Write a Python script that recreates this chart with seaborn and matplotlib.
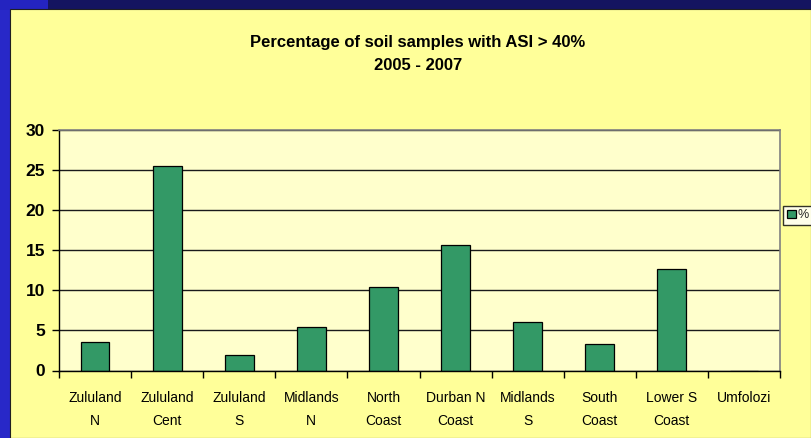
import matplotlib
matplotlib.use("Agg")
import matplotlib.pyplot as plt
import seaborn as sns
import pandas as pd
from matplotlib.patches import Rectangle

regions = ["Zululand\nN", "Zululand\nCent", "Zululand\nS", "Midlands\nN", "North\nCoast",
           "Durban N\nCoast", "Midlands\nS", "South\nCoast", "Lower S\nCoast", "Umfolozi"]
pct = [3.5, 25.5, 1.9, 5.4, 10.4, 15.6, 6.1, 3.3, 12.7, 0.0]
yticks = [0, 5, 10, 15, 20, 25, 30]
title_lines = ["Percentage of soil samples with ASI > 40%", "2005 - 2007"]
series_name = "%"

df = pd.DataFrame({"region": regions, "pct": pct})

sns.set_theme(style="white")
plt.rcParams["font.family"] = ["Liberation Sans", "DejaVu Sans"]

W, H = 811, 438
fig = plt.figure(figsize=(W / 100, H / 100), dpi=100)
fig.patch.set_facecolor("#141460")
# left blue strip
fig.patches.append(Rectangle((0, 0), 10 / W, 1, transform=fig.transFigure,
                             facecolor="#2828c8", edgecolor="none", zorder=-3))
fig.patches.append(Rectangle((0, 1 - 10 / H), 48 / W, 10 / H, transform=fig.transFigure,
                             facecolor="#2424c0", edgecolor="none", zorder=-3))
# yellow panel
fig.patches.append(Rectangle((10 / W, 0), 1 - 10 / W, 1 - 9 / H, transform=fig.transFigure,
                             facecolor="#FFFF99", edgecolor="#202020", linewidth=0.8, zorder=-2))

left, right, top, bottom = 59, 780, 130, 370.5
ax = fig.add_axes([left / W, 1 - bottom / H, (right - left) / W, (bottom - top) / H])
ax.set_facecolor("#FFFFCC")

sns.barplot(data=df, x="region", y="pct", ax=ax, color="#339966", width=0.4,
            edgecolor="black", linewidth=0.9, saturation=1, label=series_name)

ax.set_ylim(0, 30)
ax.set_xlim(-0.5, len(regions) - 0.5)
ax.set_yticks(yticks)
ax.set_yticklabels([str(v) for v in yticks], fontsize=12.5, fontweight="bold", color="black")
ax.yaxis.grid(True, color="#1a1a1a", linewidth=1.0)
ax.set_axisbelow(True)
ax.set_xlabel("")
ax.set_ylabel("")

ax.set_xticks(range(len(regions)))
ax.set_xticklabels(regions, fontsize=10, linespacing=1.75, color="black")
ax.set_xticks([i - 0.5 for i in range(len(regions) + 1)], minor=True)
ax.tick_params(axis="x", which="major", length=0, pad=15)
ax.tick_params(axis="x", which="minor", length=5, width=1, color="black", direction="out", bottom=True)
ax.tick_params(axis="y", which="major", length=5, width=1, color="black", direction="out", pad=5, left=True)

for side in ["left", "bottom"]:
    ax.spines[side].set_color("black")
    ax.spines[side].set_linewidth(1.0)
for side in ["top", "right"]:
    ax.spines[side].set_visible(True)
    ax.spines[side].set_color("#808080")
    ax.spines[side].set_linewidth(1.2)

fig.text(418 / W, 1 - 42 / H, title_lines[0], ha="center", va="center",
         fontsize=12, fontweight="bold", color="black")
fig.text(418 / W, 1 - 65 / H, title_lines[1], ha="center", va="center",
         fontsize=12, fontweight="bold", color="black")

leg = ax.get_legend()
if leg is not None:
    leg.remove()
handles, labels = ax.get_legend_handles_labels()
fig.legend(handles[:1], [series_name], loc="lower left",
           bbox_to_anchor=(783 / W, 1 - 225 / H), frameon=True, fancybox=False,
           edgecolor="black", facecolor="white", fontsize=9, handlelength=0.7,
           handleheight=0.7, handletextpad=0.2, borderpad=0.3, borderaxespad=0)

fig.savefig("out.png", dpi=100, facecolor=fig.get_facecolor())
